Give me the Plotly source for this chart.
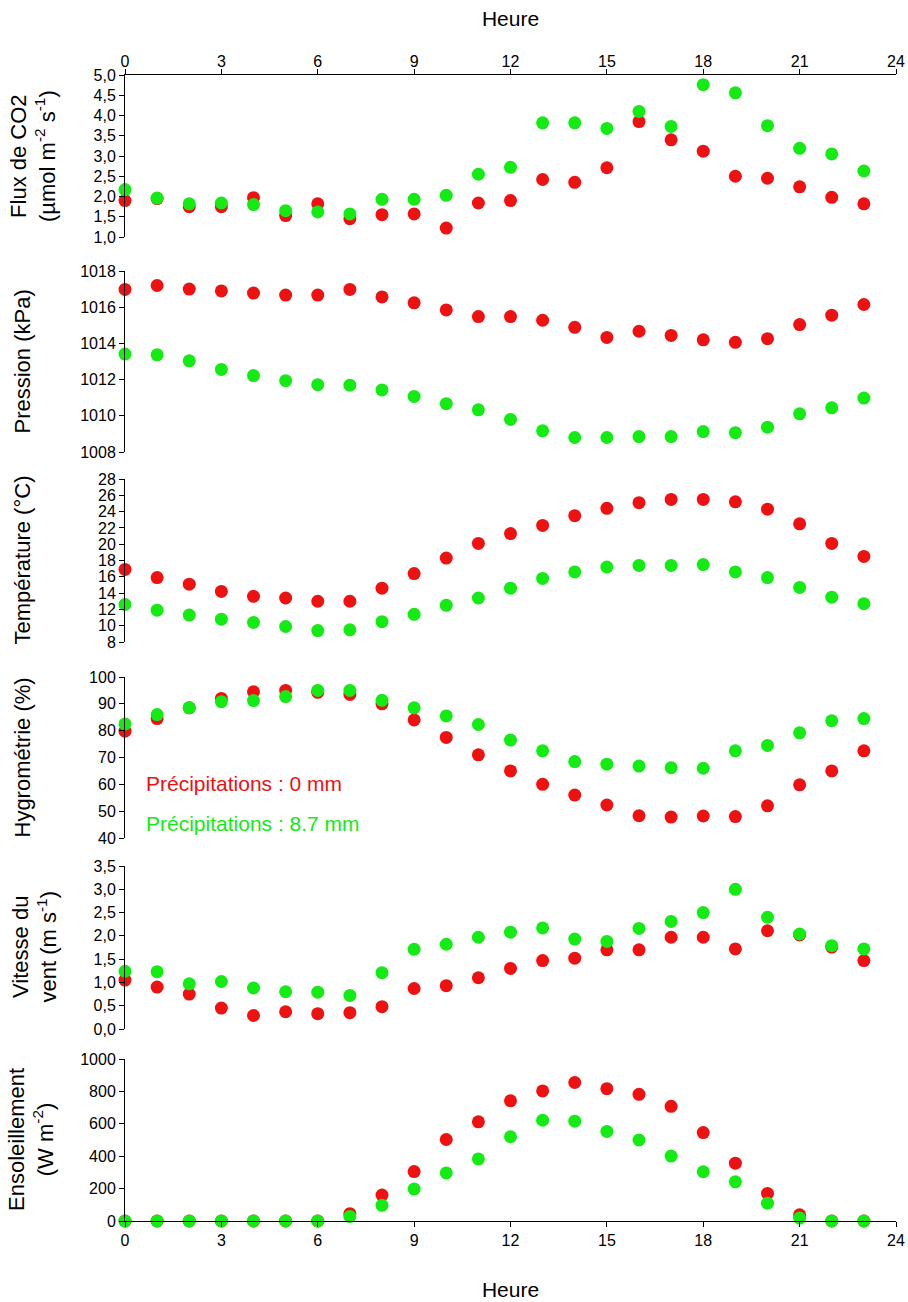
import plotly.graph_objects as go

# ---------------- data ----------------
hours = list(range(24))

co2_dry = [1.90, 1.95, 1.75, 1.75, 1.97, 1.53, 1.82, 1.45, 1.55, 1.57, 1.22, 1.84,
           1.90, 2.42, 2.35, 2.71, 3.85, 3.40, 3.12, 2.50, 2.45, 2.24, 1.98, 1.82]
co2_wet = [2.17, 1.96, 1.82, 1.84, 1.80, 1.65, 1.62, 1.57, 1.93, 1.93, 2.03, 2.55,
           2.72, 3.82, 3.82, 3.68, 4.10, 3.73, 4.76, 4.56, 3.75, 3.19, 3.05, 2.63]

pres_dry = [1016.98, 1017.2, 1017.0, 1016.9, 1016.78, 1016.67, 1016.67, 1016.98,
            1016.57, 1016.24, 1015.85, 1015.48, 1015.48, 1015.28, 1014.89, 1014.33,
            1014.67, 1014.44, 1014.2, 1014.06, 1014.26, 1015.04, 1015.56, 1016.15]
pres_wet = [1013.41, 1013.37, 1013.04, 1012.56, 1012.22, 1011.94, 1011.72, 1011.69,
            1011.43, 1011.07, 1010.67, 1010.33, 1009.8, 1009.17, 1008.8, 1008.8,
            1008.85, 1008.85, 1009.13, 1009.07, 1009.37, 1010.11, 1010.44, 1010.98]

temp_dry = [16.9, 15.9, 15.1, 14.2, 13.6, 13.4, 13.0, 13.0, 14.6, 16.4, 18.3, 20.1,
            21.3, 22.3, 23.5, 24.4, 25.1, 25.5, 25.5, 25.2, 24.3, 22.5, 20.1, 18.5]
temp_wet = [12.6, 11.9, 11.3, 10.8, 10.4, 9.9, 9.4, 9.5, 10.5, 11.4, 12.5, 13.4,
            14.6, 15.8, 16.6, 17.2, 17.4, 17.4, 17.5, 16.6, 15.9, 14.7, 13.5, 12.7]

hygro_dry = [79.8, 84.5, 88.5, 92.0, 94.5, 95.0, 94.3, 93.5, 90.0, 84.0, 77.5, 71.0,
             65.0, 60.0, 56.0, 52.3, 48.3, 47.8, 48.2, 48.0, 52.0, 59.8, 65.0, 72.5]
hygro_wet = [82.5, 86.0, 88.5, 90.8, 91.2, 92.7, 95.0, 95.0, 91.3, 88.5, 85.5, 82.3,
             76.5, 72.5, 68.5, 67.5, 66.8, 66.2, 66.0, 72.5, 74.5, 79.2, 83.7, 84.5]

vent_dry = [1.05, 0.90, 0.75, 0.45, 0.29, 0.37, 0.33, 0.35, 0.48, 0.87, 0.93, 1.10,
            1.30, 1.47, 1.52, 1.70, 1.70, 1.97, 1.97, 1.72, 2.11, 2.02, 1.76, 1.47]
vent_wet = [1.24, 1.23, 0.97, 1.02, 0.88, 0.80, 0.79, 0.72, 1.21, 1.71, 1.82, 1.97,
            2.08, 2.17, 1.93, 1.88, 2.16, 2.31, 2.50, 3.00, 2.40, 2.04, 1.79, 1.72]

sol_dry = [0, 0, 0, 0, 0, 0, 0, 45, 160, 305, 503, 612, 742, 803, 855, 817, 782, 708,
           546, 357, 170, 38, 0, 0]
sol_wet = [0, 0, 0, 0, 0, 0, 0, 28, 97, 197, 297, 383, 520, 622, 616, 553, 500, 401,
           304, 242, 110, 18, 0, 0]

label_dry = "Précipitations : 0 mm"
label_wet = "Précipitations : 8.7 mm"
x_title = "Heure"

# ---------------- layout helpers ----------------
W, H = 908, 1302
ML, MR, MT, MB = 125, 12, 75, 81
PW, PH = W - ML - MR, H - MT - MB


def py(p):
    return (H - MB - p) / PH


def px(p):
    return (p - ML) / PW


RED = "#EE1111"
GREEN = "#14EA14"
FONT = "Liberation Sans, Arial, sans-serif"

panels = [
    dict(dry=co2_dry, wet=co2_wet, top=75, bot=237, rng=[1, 5], dtick=0.5, fmt=".1f",
         title="Flux de CO2<br>(µmol m<sup>-2</sup> s<sup>-1</sup>)", tx=33),
    dict(dry=pres_dry, wet=pres_wet, top=271, bot=452, rng=[1008, 1018], dtick=2, fmt="d",
         title="Pression (kPa)", tx=22),
    dict(dry=temp_dry, wet=temp_wet, top=479, bot=642, rng=[8, 28], dtick=2, fmt="d",
         title="Température (°C)", tx=22),
    dict(dry=hygro_dry, wet=hygro_wet, top=677, bot=838, rng=[40, 100], dtick=10, fmt="d",
         title="Hygrométrie (%)", tx=22),
    dict(dry=vent_dry, wet=vent_wet, top=866, bot=1029, rng=[0, 3.5], dtick=0.5, fmt=".1f",
         title="Vitesse du<br>vent (m s<sup>-1</sup>)", tx=34),
    dict(dry=sol_dry, wet=sol_wet, top=1059, bot=1221, rng=[0, 1000], dtick=200, fmt="d",
         title="Ensoleillement<br>(W m<sup>-2</sup>)", tx=31),
]

fig = go.Figure()
annotations = []
n = len(panels)
for i, p in enumerate(panels, start=1):
    sfx = "" if i == 1 else str(i)
    for ys, col in ((p["dry"], RED), (p["wet"], GREEN)):
        fig.add_trace(go.Scatter(
            x=hours, y=ys, mode="markers", xaxis="x" + sfx, yaxis="y" + sfx,
            marker=dict(color=col, size=13, line=dict(width=0)),
            cliponaxis=False, showlegend=False, hoverinfo="x+y"))

    yax = dict(domain=[py(p["bot"]), py(p["top"])], range=p["rng"], dtick=p["dtick"],
               tick0=p["rng"][0], tickformat=p["fmt"], showline=True, linecolor="black",
               linewidth=1, ticks="outside", ticklen=5, tickcolor="black",
               showgrid=False, zeroline=False, anchor="x" + sfx,
               tickfont=dict(family=FONT, size=16, color="black"))
    xax = dict(domain=[0, 1], range=[0, 24], dtick=3, tick0=0, anchor="y" + sfx,
               showgrid=False, zeroline=False, showline=True, linecolor="black",
               linewidth=1, ticks="outside", ticklen=5, tickcolor="black",
               tickfont=dict(family=FONT, size=16, color="black"))
    if i == 1:
        xax.update(side="top", ticklabelstandoff=-4,
                   title=dict(text=x_title, standoff=20,
                              font=dict(family=FONT, size=21, color="black")))
    elif i == n:
        xax.update(side="bottom", title=dict(text=x_title, standoff=34,
                                             font=dict(family=FONT, size=21, color="black")))
    else:
        xax.update(visible=False, matches="x")
    fig.update_layout({"xaxis" + sfx: xax, "yaxis" + sfx: yax})

    annotations.append(dict(
        text=p["title"], textangle=-90, xref="paper", yref="paper",
        x=px(p["tx"]), y=py((p["top"] + p["bot"]) / 2), xanchor="center",
        yanchor="middle", showarrow=False,
        font=dict(family=FONT, size=22, color="black")))

# legend-like text in humidity panel
annotations.append(dict(text=label_dry, xref="paper", yref="paper", x=px(144), y=py(783),
                        xanchor="left", yanchor="middle", showarrow=False,
                        font=dict(family=FONT, size=21, color=RED)))
annotations.append(dict(text=label_wet, xref="paper", yref="paper", x=px(144), y=py(823),
                        xanchor="left", yanchor="middle", showarrow=False,
                        font=dict(family=FONT, size=21, color=GREEN)))

fig.update_layout(
    width=W, height=H, margin=dict(l=ML, r=MR, t=MT, b=MB, autoexpand=False),
    plot_bgcolor="white", paper_bgcolor="white", separators=", ",
    annotations=annotations, font=dict(family=FONT, color="black"),
)

fig.write_html("out.html", config={"displayModeBar": False},
               post_script="document.body.style.margin='0';document.body.style.overflow='hidden';")
